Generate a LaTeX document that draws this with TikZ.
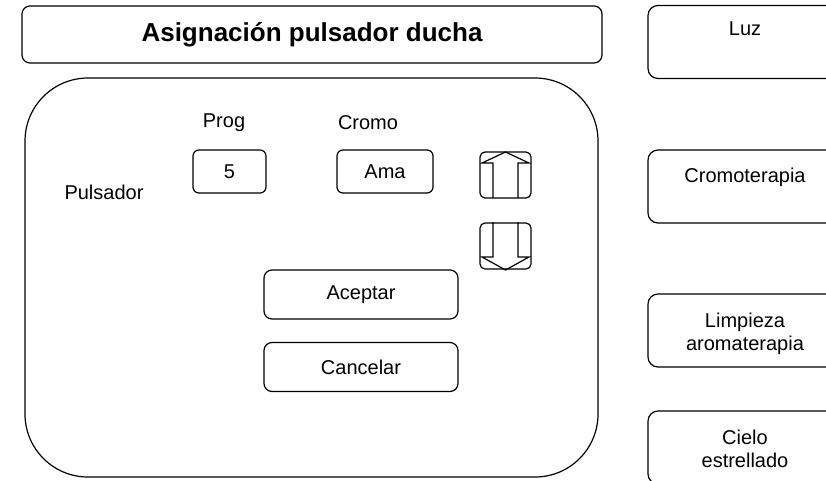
\documentclass[tikz,border=0pt]{standalone}
\usepackage{fontspec}
\setmainfont{Liberation Sans}
\usetikzlibrary{positioning}

\begin{document}
\begin{tikzpicture}[
    x=1pt, y=-1pt,
    line width=1.2pt,
    box/.style={draw, rounded corners=8pt, inner sep=0pt, outer sep=0pt},
    titlebox/.style={box, minimum width=580pt, minimum height=57pt, font=\fontsize{26}{30}\selectfont\bfseries},
    panel/.style={box, rounded corners=63pt, minimum width=573pt, minimum height=399pt},
    field/.style={box, rounded corners=6pt, minimum width=73pt, minimum height=43pt, font=\fontsize{20}{24}\selectfont},
    button/.style={box, minimum width=194pt, minimum height=49pt, font=\fontsize{20}{24}\selectfont},
    arrowbtn/.style={box, rounded corners=5pt, minimum width=51pt, minimum height=46pt},
    sidebox/.style={box, rounded corners=10pt, minimum width=194pt, minimum height=73pt},
    txt/.style={font=\fontsize{20}{23}\selectfont, align=center}
]
\useasboundingbox (0,0) rectangle (826,480);

% Title
\node[titlebox] (title) at (312,34.5) {Asignación pulsador ducha};

% ============ MAIN PANEL ============
\node[panel] (main) at (311.5,277.5) {};

\node[txt] (prog-lbl) at (224,123) {Prog};
\node[txt] (cromo-lbl) at (368,123) {Cromo};
\node[txt] (pulsador-lbl) at (104,192) {Pulsador};

% Fields
\node[field] (prog) at (229.5,171.5) {5};
\node[field, minimum width=96pt] (cromo) at (385,171.5) {Ama};

% Up / down buttons
\node[arrowbtn] (up) at (505.5,175) {};
\node[arrowbtn] (down) at (505.5,246) {};
\draw (493,198) -- (493,163) -- (482,163) -- (505.5,152) -- (529,163) -- (518,163) -- (518,198);
\draw (493,222) -- (493,257) -- (482,257) -- (505.5,270) -- (529,257) -- (518,257) -- (518,222);

% Buttons
\node[button] (aceptar) at (361,294.5) {Aceptar};
\node[button] (cancelar) at (361,367) {Cancelar};

% ============ RIGHT COLUMN ============
\node[sidebox] (luz) at (745,42) {};
\node[txt] (luz-txt) at (745,29) {Luz};

\node[sidebox] (cromoterapia) at (745,186.5) {};
\node[txt] (cromoterapia-txt) at (745,177) {Cromoterapia};

\node[sidebox] (limpieza) at (745,330.5) {};
\node[txt] (limpieza-txt) at (745,334) {Limpieza\\aromaterapia};

\node[sidebox] (cielo) at (745,447.5) {};
\node[txt] (cielo-txt) at (745,449) {Cielo\\estrellado};

\end{tikzpicture}
\end{document}
